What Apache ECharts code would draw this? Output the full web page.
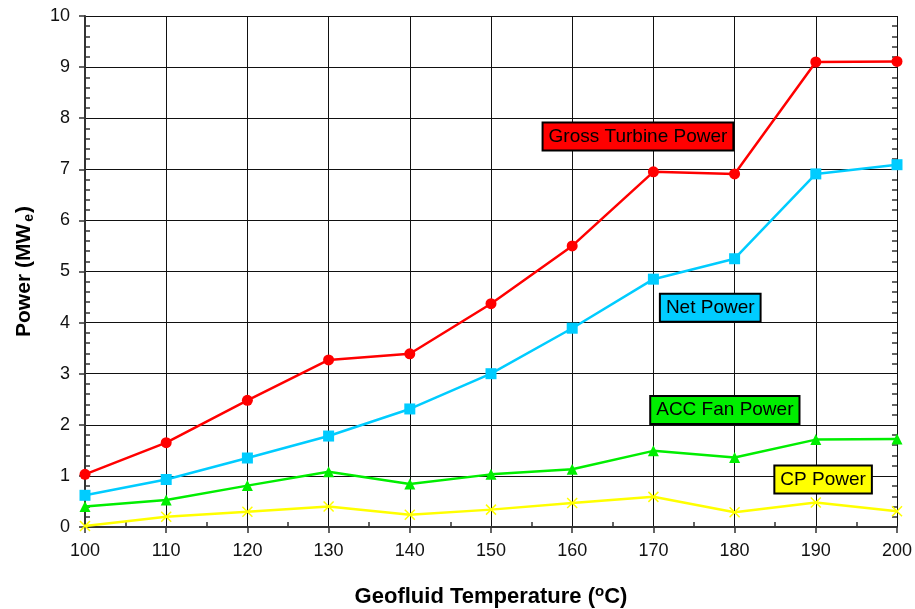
<!DOCTYPE html>
<html>
<head>
<meta charset="utf-8">
<script src="https://cdn.jsdelivr.net/npm/echarts@6/dist/echarts.min.js"></script>
<style>html,body{margin:0;padding:0;background:#fff;}#c{width:915px;height:609px;}</style>
</head>
<body>
<div id="c"></div>
<script>
const temps = [100, 110, 120, 130, 140, 150, 160, 170, 180, 190, 200];
const grossTurbine = [1.03, 1.65, 2.48, 3.27, 3.39, 4.37, 5.50, 6.95, 6.91, 9.10, 9.11];
const netPower = [0.62, 0.93, 1.35, 1.78, 2.31, 3.00, 3.89, 4.85, 5.25, 6.91, 7.09];
const accFan = [0.40, 0.53, 0.81, 1.08, 0.84, 1.03, 1.13, 1.49, 1.36, 1.71, 1.72];
const cpPower = [0.02, 0.20, 0.30, 0.40, 0.24, 0.34, 0.47, 0.59, 0.29, 0.48, 0.31];
const labelNames = ['Gross Turbine Power', 'Net Power', 'ACC Fan Power', 'CP Power'];
const labelAnchors = [[168.1, 7.64], [177.0, 4.29], [178.8, 2.29], [190.9, 0.93]];

const font = 'Liberation Sans, Arial, sans-serif';
const pairs = arr => temps.map((t, i) => [t, arr[i]]);

function tag(name, anchor, bg) {
  return {
    symbol: 'rect', symbolSize: 0, silent: true,
    data: [{
      coord: anchor,
      label: {
        show: true, position: 'inside', formatter: name,
        fontFamily: font, fontSize: 19, color: '#000',
        backgroundColor: bg, borderColor: '#000', borderWidth: 2,
        padding: [4, 5, 3, 5]
      }
    }]
  };
}

function line(name, arr, color, symbol, size, idx, extra) {
  return Object.assign({
    name: name, type: 'line', data: pairs(arr),
    symbol: symbol, symbolSize: size,
    lineStyle: { color: color, width: 2.5 },
    itemStyle: { color: color },
    z: 10 - idx,
    markPoint: tag(labelNames[idx], labelAnchors[idx], color)
  }, extra || {});
}

const axisLine = { show: true, lineStyle: { color: '#333', width: 2 } };
const chart = echarts.init(document.getElementById('c'));
chart.setOption({
  animation: false,
  backgroundColor: '#fff',
  grid: { left: 85, right: 18, top: 16, bottom: 82, containLabel: false, outerBoundsMode: 'none' },
  xAxis: [{
    type: 'value', min: 100, max: 200, interval: 10,
    axisLine: axisLine,
    axisTick: { show: true, inside: false, length: 6, lineStyle: { color: '#333', width: 1.5 } },
    axisLabel: { fontFamily: font, fontSize: 18, color: '#111', margin: 15 },
    splitLine: { show: true, lineStyle: { color: '#111', width: 1 } },
    name: '{a|Geofluid Temperature (}{s|o}{a|C)}',
    nameLocation: 'middle', nameGap: 57,
    nameTextStyle: {
      rich: {
        a: { fontFamily: font, fontSize: 22, fontWeight: 'bold', color: '#000' },
        s: { fontFamily: font, fontSize: 15, fontWeight: 'bold', color: '#000', padding: [0, 0, 11, 0] }
      }
    }
  }, {
    type: 'value', min: 100, max: 200, interval: 10, position: 'bottom',
    axisLine: { show: false }, axisLabel: { show: false }, splitLine: { show: false },
    axisTick: { show: false, inside: true },
    minorTick: { show: true, splitNumber: 2, length: 5, lineStyle: { color: '#333', width: 1.5 } }
  }],
  yAxis: [{
    type: 'value', min: 0, max: 10, interval: 1,
    axisLine: axisLine,
    axisTick: { show: true, inside: false, length: 6, lineStyle: { color: '#333', width: 1.5 } },
    axisLabel: { fontFamily: font, fontSize: 18, color: '#111', margin: 15 },
    splitLine: { show: true, lineStyle: { color: '#111', width: 1 } },
    name: '{a|Power (MW}{b|e}{a|)}',
    nameLocation: 'middle', nameGap: 49, nameRotate: 90,
    nameTextStyle: {
      rich: {
        a: { fontFamily: font, fontSize: 21, fontWeight: 'bold', color: '#000' },
        b: { fontFamily: font, fontSize: 14, fontWeight: 'bold', color: '#000', padding: [9, 1, 0, 2] }
      }
    }
  }, {
    type: 'value', min: 0, max: 10, interval: 1, position: 'left',
    axisLine: { show: false }, axisLabel: { show: false }, splitLine: { show: false },
    axisTick: { show: false, inside: true },
    minorTick: { show: true, splitNumber: 5, length: 5, lineStyle: { color: '#333', width: 1.5 } }
  }, {
    type: 'value', min: 0, max: 10, interval: 1, position: 'right',
    axisLine: { show: false }, axisLabel: { show: false }, splitLine: { show: false },
    axisTick: { show: false, inside: true },
    minorTick: { show: true, splitNumber: 5, length: 5, lineStyle: { color: '#333', width: 1.5 } }
  }],
  series: [
    line('Gross Turbine Power', grossTurbine, '#ff0000', 'circle', 11, 0),
    line('Net Power', netPower, '#00ccff', 'rect', 11, 1),
    line('ACC Fan Power', accFan, '#00ee00', 'triangle', 11, 2),
    line('CP Power', cpPower, '#ffff00', 'path://M0,0L10,10M10,0L0,10', 10, 3,
      { itemStyle: { color: 'none', borderColor: '#ffff00', borderWidth: 1.5 } })
  ]
});
</script>
</body>
</html>
